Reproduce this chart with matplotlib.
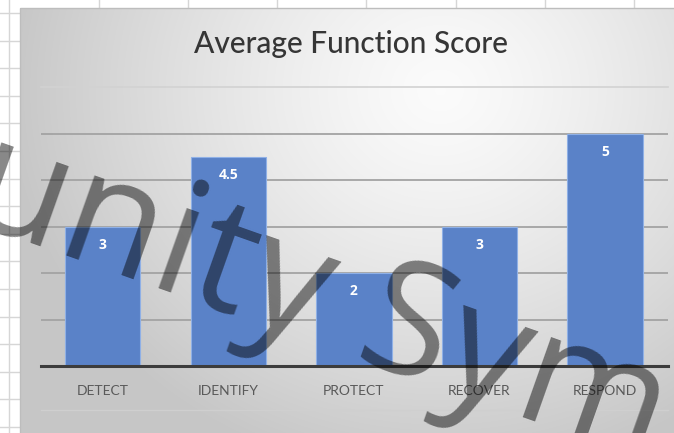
import numpy as np
import matplotlib
matplotlib.use("Agg")
import matplotlib.pyplot as plt
from matplotlib.patches import Rectangle

categories = ["DETECT", "IDENTIFY", "PROTECT", "RECOVER", "RESPOND"]
scores = [3, 4.5, 2, 3, 5]
score_labels = ["3", "4.5", "2", "3", "5"]
title = "Average Function Score"
watermark = "unity Sym"

W, H = 674, 433
fig = plt.figure(figsize=(W / 100, H / 100), dpi=100)
fig.patch.set_facecolor("white")

# background: spreadsheet grid + chart area with radial gradient
bg = fig.add_axes([0, 0, 1, 1])
bg.set_xlim(0, W)
bg.set_ylim(H, 0)
bg.axis("off")
for x in [9, 99, 188, 277, 366, 456, 545, 634]:
    bg.plot([x, x], [0, H], color="#d6d6d6", lw=1, zorder=1)
for y in np.arange(13, H, 27.6):
    bg.plot([0, W], [y, y], color="#d6d6d6", lw=1, zorder=1)

cx0, cy0 = 20, 8
yy, xx = np.mgrid[cy0:H, cx0:W]
d = np.sqrt(((xx - 440) / 1.0) ** 2 + ((yy - 90) / 0.9) ** 2)
t = np.clip(d / 430.0, 0, 1)
c_in, c_out = 0.985, 0.78
val = c_in + (c_out - c_in) * t ** 1.3
img = np.dstack([val, val, val])
bg.imshow(img, extent=(cx0, W, H, cy0), zorder=2, interpolation="bilinear", aspect="auto")
bg.add_patch(Rectangle((cx0, cy0), W - cx0 + 5, H - cy0 + 5, fill=False,
                       edgecolor="#bdbdbd", lw=1, zorder=3))
bg.set_xlim(0, W)
bg.set_ylim(H, 0)
bg.plot([41, 668], [410, 410], color="#cfcfcf", lw=1, zorder=3)

# main chart
ax = fig.add_axes([41 / W, (H - 366) / H, (668 - 41) / W, (366 - 87) / H])
ax.patch.set_alpha(0)
x = np.arange(len(categories))
ax.set_xlim(-0.49, 4.5)
ax.set_ylim(0, 6)
for gy in [1, 2, 3, 4, 5]:
    ax.axhline(gy, color="#a3a3a3", lw=1.3, zorder=1)
ax.axhline(6, color="#d2d2d2", lw=1.2, zorder=1, clip_on=False)
ax.bar(x, scores, width=0.6, color="#5a82c8", edgecolor="#8fb0e6", lw=0.8, zorder=2)
ax.axhline(0, color="#3c3c3c", lw=2.2, zorder=3, clip_on=False)
for xi, v, lab in zip(x, scores, score_labels):
    ax.annotate(lab, (xi, v), xytext=(0, -13), textcoords="offset points",
                ha="center", va="center", color="white", fontsize=10,
                fontweight="bold", family="Open Sans", zorder=4)
for s in ax.spines.values():
    s.set_visible(False)
ax.set_yticks([])
ax.set_xticks(x)
ax.set_xticklabels(categories, family="Lato", fontsize=10, color="#595959")
ax.tick_params(axis="x", length=0, pad=14)

fig.text(351 / W, 1 - 44 / H, title, ha="center", va="center", family="Lato",
         fontsize=21.5, fontweight="medium", color="#363636")

fig.text(-39 / W, 1 - 218 / H, watermark, rotation=-19.5, rotation_mode="anchor",
         ha="left", va="baseline", fontsize=115, family="Open Sans",
         color="black", alpha=0.47, zorder=10)

fig.savefig("out.png", dpi=100)
